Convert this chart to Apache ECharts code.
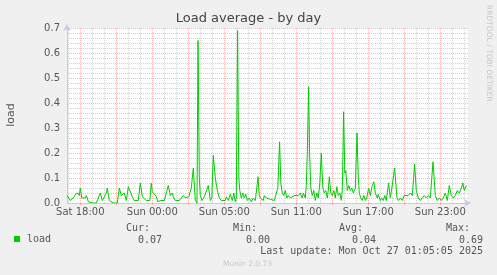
<!DOCTYPE html>
<html><head><meta charset="utf-8">
<script src="https://cdn.jsdelivr.net/npm/echarts@6/dist/echarts.min.js"></script>
<style>html,body{margin:0;padding:0;background:#f0f0f0}#c{width:497px;height:275px}</style>
</head><body><div id="c"></div>
<script>
// x positions: 5-minute steps since Sat 18:00
const steps = [-13,-12,-10,-8,-6,-5,-2.3,-1,0,1.5,3,5,6,7,8,10,12,14,16,18,20,22,23.5,25,26,27,29,31,33,35,37,39,41,42.5,44,46,48,50,52,54,56,58,60,62,64,66,68,69.5,71,72,74,76,77.5,80,82,84,86,88,90,92,93,95,97,99,101,103,105,107,108.5,111,113,115,116.7,117.7,119,120,121.7,124,126,128,130,131.5,133,135,137,139,141,143,145,146,148,150,152,153.5,155,156,157.3,158.5,159.5,161,162.5,164,165.5,167,169,171,173,175,176.5,177.7,179,180,181,183,184,186,188,190,192,194,196,197.5,199.3,200.5,202,203.5,205,206.5,208,210,212,214,216,218,220,222,223,225,226,227,228.3,229.3,230.5,232,233.5,235,236.5,238,239.5,241,242.5,244,245.5,247,248,249,250.5,252,253.5,255,256.5,258,259.5,261,262,263.3,264.5,265.5,267,268.5,270,271.5,273,275,276.7,278,279,280.5,282,283.5,285,286.5,288.3,290,292,293.5,295,297,298,300,301.5,303,304.5,306,307,308.3,310,312.3,314.3,316.7,318,320,322,324,326,328,330,332,334.3,336,338,340,342,344,346,348,350,352.7,355,357,359,361,363,365,367,369,371,373,375,377,379,381,382.5,384,386];
const load = [0.03,0.025,0.01,0.01,0.025,0.035,0.04,0.03,0.06,0.02,0.025,0.02,0.03,0.02,0.005,0.005,0,0.005,0,0.02,0.04,0.01,0.02,0.02,0.04,0.06,0.01,0.005,0,0.005,0,0.06,0.03,0.025,0.04,0.01,0.065,0.065,0.025,0.01,0.015,0.01,0.08,0.025,0.02,0.01,0.015,0.01,0.08,0.045,0.04,0.025,0.005,0.01,0.005,0.01,0.005,0.07,0.03,0.04,0.025,0.01,0.015,0.01,0.01,0.03,0.02,0.02,0.025,0.06,0.14,0.01,0,0.65,0.1,0.03,0.01,0.025,0.02,0.07,0.01,0.02,0.19,0.1,0.05,0.02,0.01,0.015,0.01,0.025,0.01,0.035,0.01,0.04,0.005,0.02,0.69,0.1,0.05,0.02,0.04,0.02,0.035,0.01,0.02,0.005,0.02,0.01,0.06,0.105,0.03,0.02,0.02,0.01,0.03,0.02,0.025,0.015,0.02,0.01,0.005,0.06,0.245,0.08,0.04,0.03,0.05,0.02,0.03,0.02,0.025,0.03,0.035,0.03,0.04,0.02,0.04,0.02,0.07,0.2,0.465,0.2,0.06,0.03,0.05,0.01,0.04,0.02,0.08,0.2,0.06,0.04,0.05,0.02,0.05,0.105,0.04,0.03,0.05,0.02,0.065,0.03,0.04,0.01,0.05,0.365,0.12,0.13,0.05,0.07,0.05,0.06,0.04,0.06,0.28,0.1,0.04,0.02,0.01,0.03,0.01,0.02,0.06,0.03,0.07,0.085,0.04,0.02,0.035,0.01,0.02,0.01,0.03,0.01,0.005,0.08,0.02,0.08,0.14,0.02,0.01,0.02,0.01,0.03,0.035,0.03,0.04,0.03,0.155,0.05,0.02,0.01,0.01,0.03,0.02,0.03,0.02,0.165,0.03,0.01,0.02,0.01,0.02,0.04,0.01,0.07,0.03,0.02,0.03,0.05,0.04,0.06,0.08,0.05,0.07];
const majorTicks = [0,36,72,108,144,180,216,252,288,324,360];
const minorTicks = [-12,12,24,48,60,84,96,120,132,156,168,192,204,228,240,264,276,300,312,336,348,372,384];
const labelTicks = [0,72,144,216,288,360];
const tickLabels = ['Sat 18:00','Sun 00:00','Sun 05:00','Sun 11:00','Sun 17:00','Sun 23:00'];
const statNames = ['Cur:','Min:','Avg:','Max:'];
const statValues = ['0.07','0.00','0.04','0.69'];
const lastUpdate = 'Last update: Mon Oct 27 01:05:05 2025';

const X_MIN = -13.3, X_MAX = 387.7;
const mono = 'DejaVu Sans Mono';
const sans = 'DejaVu Sans';
const txt = '#555';
const red = 'rgba(255,120,120,0.55)';
const gray = 'rgba(180,180,180,0.6)';
const axisCol = '#c8c8f4';

const statRightHead = [150, 257, 363, 470];
const statRightVal = [162, 270, 376, 483];
const graphics = [];
statNames.forEach((n, i) => {
  graphics.push({type:'text', x: statRightHead[i], y: 228, style:{text:n, font:'10px '+mono, fill:txt, textAlign:'right', textVerticalAlign:'middle'}});
  graphics.push({type:'text', x: statRightVal[i], y: 240, style:{text:statValues[i], font:'10px '+mono, fill:txt, textAlign:'right', textVerticalAlign:'middle'}});
});
graphics.push({type:'text', x: 483, y: 251, style:{text:lastUpdate, font:'10px '+mono, fill:txt, textAlign:'right', textVerticalAlign:'middle'}});
graphics.push({type:'text', x: 247.5, y: 264.5, style:{text:'Munin 2.0.73', font:'7.5px '+sans, fill:'#c8c8c8', textAlign:'center', textVerticalAlign:'middle'}});
graphics.push({type:'text', x: 488.5, y: 5, rotation: -Math.PI/2, style:{text:'RRDTOOL / TOBI OETIKER', font:'7.5px '+sans, fill:'#c8c8c8', textAlign:'left', textVerticalAlign:'middle'}});
graphics.push({type:'text', x: 11, y: 115, rotation: Math.PI/2, style:{text:'load', font:'11px '+sans, fill:txt, textAlign:'center', textVerticalAlign:'middle'}});

const chart = echarts.init(document.getElementById('c'), null, {renderer:'canvas'});
chart.setOption({
  animation: false,
  backgroundColor: '#f0f0f0',
  title: {text:'Load average - by day', left:'center', top:12, padding:0,
    textStyle:{fontFamily:sans, fontSize:13, fontWeight:'normal', color:'#444'}},
  legend: {data:['load'], left:14, top:234, padding:0, icon:'rect', itemWidth:6, itemHeight:6,
    textStyle:{fontFamily:mono, fontSize:10, color:txt, padding:[0,0,0,2]}},
  grid: {left:67, right:29, top:28, bottom:72, show:true, backgroundColor:'#fff', borderWidth:0,
    containLabel:false, outerBoundsMode:'none'},
  xAxis: [
    {type:'value', min:X_MIN, max:X_MAX, position:'bottom',
      axisLine:{show:false, onZero:false}, axisLabel:{show:false},
      axisTick:{show:false, customValues:minorTicks},
      splitLine:{show:true, lineStyle:{color:gray, width:1, type:[1,1]}}},
    {type:'value', min:X_MIN, max:X_MAX, position:'bottom',
      axisLine:{show:true, onZero:false, lineStyle:{color:axisCol, width:1}, symbol:['none','arrow'], symbolSize:[6,7], symbolOffset:[0,3]},
      axisTick:{show:true, customValues:majorTicks, length:2, inside:false, lineStyle:{color:red}},
      axisLabel:{show:true, customValues:labelTicks, margin:4, fontFamily:sans, fontSize:10, color:txt,
        formatter: v => { const i = labelTicks.indexOf(Math.round(v)); return i >= 0 ? tickLabels[i] : ''; }},
      splitLine:{show:true, lineStyle:{color:red, width:1, type:[1,1]}}}
  ],
  yAxis: {type:'value', min:0, max:0.7, interval:0.1,
    axisLine:{show:true, onZero:false, lineStyle:{color:axisCol, width:1}, symbol:['none','arrow'], symbolSize:[6,7], symbolOffset:[0,4]},
    axisTick:{show:false},
    axisLabel:{margin:7, fontFamily:sans, fontSize:10, color:txt, formatter: v => v.toFixed(1)},
    splitLine:{show:true, lineStyle:{color:red, width:1, type:[1,1]}},
    minorTick:{show:false, splitNumber:5},
    minorSplitLine:{show:true, lineStyle:{color:gray, width:1, type:[1,1]}}},
  series: [{
    name:'load', type:'line', xAxisIndex:1, showSymbol:false, symbol:'none',
    color:'#00cc00', lineStyle:{color:'#00cc00', width:1}, z:5,
    data: steps.map((s, i) => [s, load[i]])
  }],
  graphic: graphics
});
</script></body></html>
